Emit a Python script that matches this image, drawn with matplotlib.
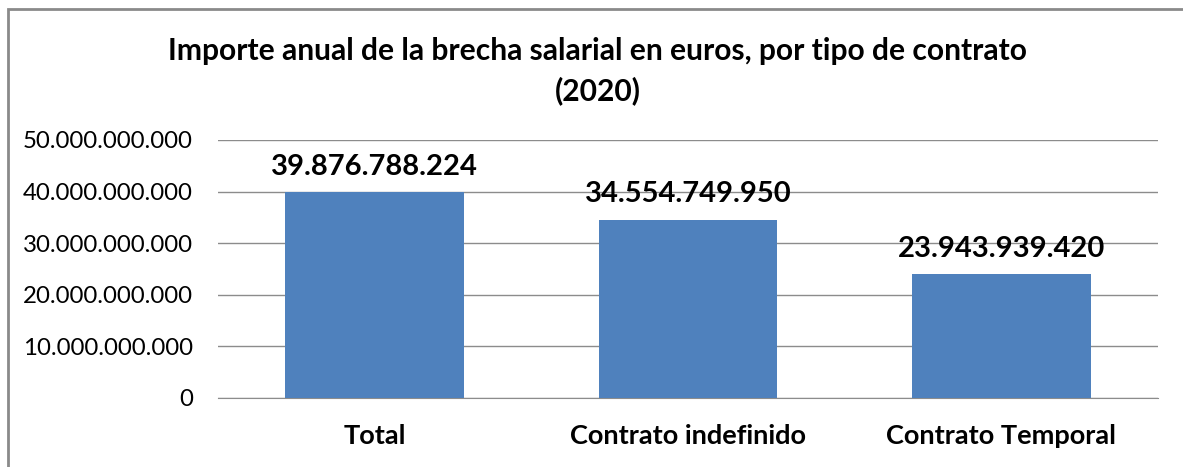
import matplotlib
matplotlib.use('Agg')
from matplotlib import pyplot as plt
from matplotlib import patches
from matplotlib.ticker import FuncFormatter

categories = ['Total', 'Contrato indefinido', 'Contrato Temporal']
values = [39876788224, 34554749950, 23943939420]
yticks = [0, 10e9, 20e9, 30e9, 40e9, 50e9]
title = 'Importe anual de la brecha salarial en euros, por tipo de contrato\n(2020)'

plt.rcParams['font.family'] = ['Lato', 'DejaVu Sans']


def dotted(v, pos=None):
    return f'{int(round(v)):,}'.replace(',', '.')


fig = plt.figure(figsize=(11.83, 4.67), dpi=100)
ax = fig.add_axes([218 / 1183, 1 - 398 / 467, 940 / 1183, 258 / 467])

x = range(len(categories))
ax.bar(x, values, width=0.57, color='#4F81BD', zorder=3)
for i, v in enumerate(values):
    ax.annotate(dotted(v), (i, v), xytext=(0, 9), textcoords='offset points',
                ha='center', va='bottom', fontsize=21, fontweight='bold')

ax.set_xlim(-0.5, len(categories) - 0.5)
ax.set_ylim(0, 50e9)
ax.set_yticks(yticks)
ax.yaxis.set_major_formatter(FuncFormatter(dotted))
ax.set_xticks(list(x))
ax.set_xticklabels(categories, fontsize=19.5, fontweight='bold')
ax.tick_params(axis='y', length=0, pad=18, labelsize=17.3)
ax.tick_params(axis='x', length=0, pad=19)
ax.grid(axis='y', color='#8c8c8c', linewidth=1, zorder=0)
for s in ['top', 'right', 'left']:
    ax.spines[s].set_visible(False)
ax.spines['bottom'].set_color('#8c8c8c')

fig.text(598 / 1183, 1 - 71 / 467, title, ha='center', va='center',
         fontsize=21.6, fontweight='bold', linespacing=1.45)

# outer chart border (cropped at right and bottom)
fig.patches.append(patches.Rectangle((8 / 1183, -0.1), 1.2, 1.1 - 9 / 467,
                                     transform=fig.transFigure, fill=False,
                                     edgecolor='#8a8a8a', linewidth=2))

fig.savefig('out.png', dpi=100)
